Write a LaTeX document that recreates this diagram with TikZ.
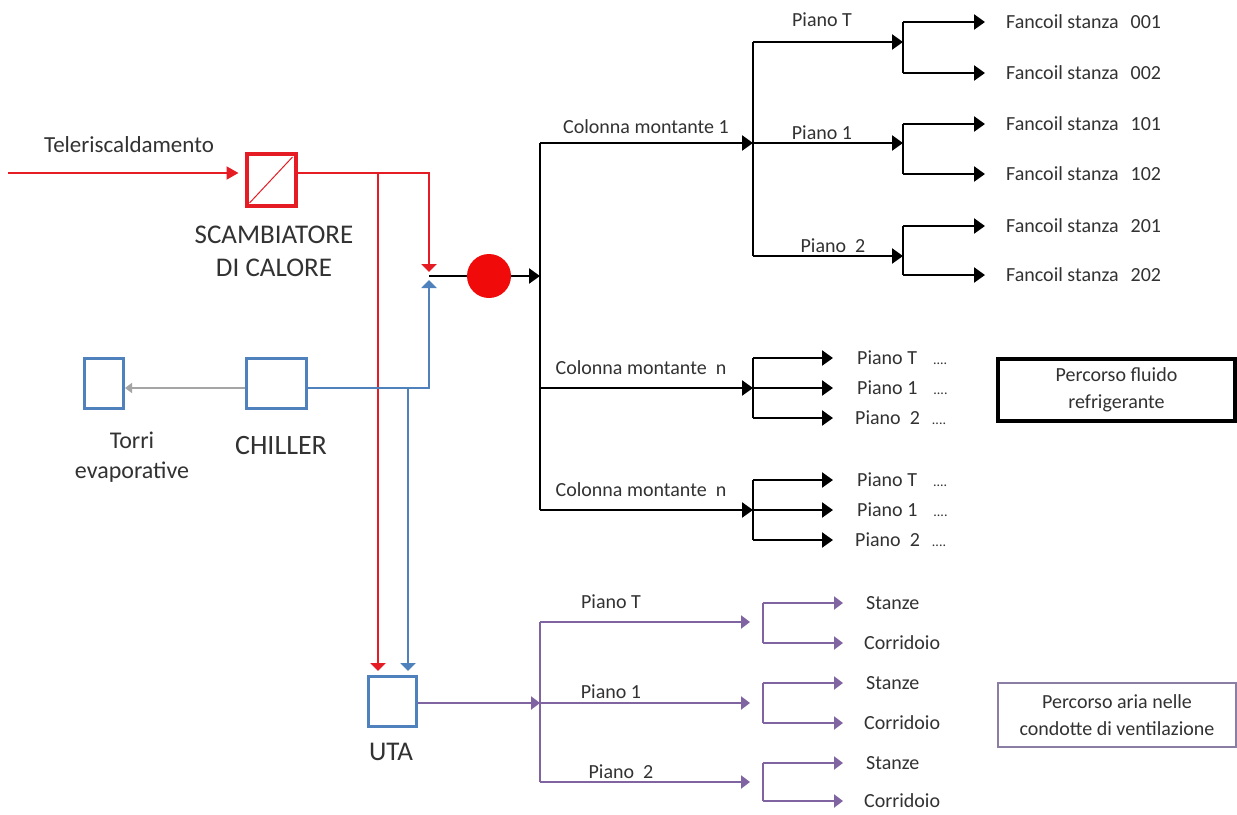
\documentclass[tikz,border=0pt]{standalone}
\usepackage{fontspec}
\setmainfont{Carlito}
\usetikzlibrary{arrows.meta}
\definecolor{hred}{RGB}{230,28,36}
\definecolor{pumpred}{RGB}{240,10,10}
\definecolor{hblue}{RGB}{79,129,189}
\definecolor{hpurple}{RGB}{128,100,162}
\definecolor{hgray}{RGB}{165,165,165}
\definecolor{txt}{RGB}{50,50,50}
\definecolor{boxpurple}{RGB}{140,125,165}
\tikzset{
 lbl/.style={text=txt, inner sep=0pt, font=\fontsize{20}{27}\selectfont},
 biglbl/.style={text=txt, inner sep=0pt, font=\fontsize{27}{30}\selectfont},
 redln/.style={draw=hred, line width=2pt},
 blueln/.style={draw=hblue, line width=2pt},
 blkln/.style={draw=black, line width=2.4pt},
 purln/.style={draw=hpurple, line width=2.5pt},
 grayln/.style={draw=hgray, line width=1.5pt},
 bigredtip/.style={-{Triangle[length=12pt,width=13pt]}},
 flattip/.style={-{Triangle[length=8pt,width=15pt]}},
 blktip/.style={-{Triangle[length=11pt,width=15pt]}},
 purtip/.style={-{Triangle[length=9pt,width=13pt]}},
 graytip/.style={-{Triangle[length=7pt,width=10pt]}},
 unitbox/.style={draw=hblue, line width=3pt, inner sep=0pt, fill=white},
}
\begin{document}
\begin{tikzpicture}[x=1pt,y=-1pt]
\useasboundingbox[fill=white] (0,0) rectangle (1237,814);

% ---------- equipment ----------
\node[draw=hred, line width=4pt, minimum width=49pt, minimum height=52pt, inner sep=0pt] (scamb) at (271,180) {};
\draw[hred, line width=1pt] ([shift={(5,-5)}]scamb.south west) -- ([shift={(-5,5)}]scamb.north east);
\node[biglbl] (scambA) at (274,235) {SCAMBIATORE};
\node[biglbl] (scambB) at (274,268) {DI CALORE};
\node[lbl, font=\fontsize{23}{26}\selectfont] (tele) at (129,145) {Teleriscaldamento};

\node[unitbox, minimum width=60pt, minimum height=50pt] (chiller) at (276.5,383.5) {};
\node[biglbl, font=\fontsize{28}{30}\selectfont] (chillerl) at (281,446) {CHILLER};
\node[unitbox, minimum width=39pt, minimum height=50pt] (torri) at (104,383.5) {};
\node[lbl, font=\fontsize{24}{30}\selectfont, align=center] (torril) at (132,457) {Torri\\evaporative};

\node[unitbox, minimum width=48pt, minimum height=50pt] (uta) at (392.5,701.5) {};
\node[biglbl] (utal) at (391,752) {UTA};

% ---------- red (hot water) ----------
\coordinate (tstart) at (8,173);
\coordinate (rsplit) at (378,173);
\coordinate (rcorner) at (429,173);
\coordinate (rtip) at (429,272);
\draw[redln, bigredtip, shorten >=6pt] (tstart) -- (tstart -| scamb.west);
\draw[redln, flattip] (scamb.east |- rsplit) -- (rcorner) -- (rtip);
\draw[redln, flattip, shorten >=4pt] (rsplit) -- (rsplit |- uta.north);

% ---------- blue (chilled water) ----------
\coordinate (bsplit) at (408,388);
\coordinate (bcorner) at (429,388);
\coordinate (btip) at (429,280);
\draw[grayln, graytip] (chiller.west |- bsplit) -- (torri.east |- bsplit);
\draw[blueln, flattip] (chiller.east |- bsplit) -- (bcorner) -- (btip);
\draw[blueln, flattip, shorten >=4pt] (bsplit) -- (bsplit |- uta.north);

% ---------- black (fluid distribution) ----------
\coordinate (mix) at (429,276);
\node[circle, fill=pumpred, minimum size=44pt, inner sep=0pt] (pump) at (489,276) {};
\coordinate (hub) at (540,276);
\draw[blkln] (mix) -- (pump.west);
\draw[blkln, blktip] (pump.east) -- (hub);

\coordinate (c1) at (540,143);
\coordinate (cn1) at (540,388);
\coordinate (cn2) at (540,510);
\draw[blkln] (c1) -- (cn2);

\node[lbl] (col1) at (646,127) {Colonna montante 1};
\node[lbl] (coln1) at (641,368) {Colonna montante\ \ n};
\node[lbl] (coln2) at (641,490) {Colonna montante\ \ n};

% riser 1
\coordinate (j1) at (753,143);
\coordinate (j1t) at (753,42);
\coordinate (j1b) at (753,256);
\draw[blkln, blktip] (c1) -- (j1);
\draw[blkln] (j1t) -- (j1b);
\coordinate (fT) at (903,42);
\coordinate (f1) at (903,143);
\coordinate (f2) at (903,256);
\draw[blkln, blktip] (j1t) -- (fT);
\draw[blkln, blktip] (j1) -- (f1);
\draw[blkln, blktip] (j1b) -- (f2);
\node[lbl] (pT) at (822,20) {Piano T};
\node[lbl] (p1) at (822,133) {Piano 1};
\node[lbl] (p2) at (833,246) {Piano\ \ 2};

\foreach \nm/\ya/\yb/\na/\nb in {T/22/73/001/002, U/124/174/101/102, D/226/275/201/202}{
  \coordinate (s\nm a) at (903,\ya);
  \coordinate (s\nm b) at (903,\yb);
  \draw[blkln] (s\nm a) -- (s\nm b);
  \node[lbl, anchor=west] (fc\na) at (1006,\ya) {Fancoil stanza\hspace{12pt}\na};
  \node[lbl, anchor=west] (fc\nb) at (1006,\yb) {Fancoil stanza\hspace{12pt}\nb};
  \draw[blkln, blktip, shorten >=21pt] (s\nm a) -- (fc\na.west);
  \draw[blkln, blktip, shorten >=21pt] (s\nm b) -- (fc\nb.west);
}

% risers n
\foreach \rr/\yc in {A/388, B/510}{
  \coordinate (k\rr) at (753,\yc);
  \coordinate (k\rr t) at (753,\yc-30);
  \coordinate (k\rr b) at (753,\yc+30);
  \draw[blkln, blktip] (540,\yc) -- (k\rr);
  \draw[blkln] (k\rr t) -- (k\rr b);
  \node[lbl, anchor=west] (q\rr T) at (857,\yc-30) {Piano T\hspace{16pt}{\fontsize{14}{14}\selectfont ....}};
  \node[lbl, anchor=west] (q\rr 1) at (857,\yc) {Piano 1\hspace{16pt}{\fontsize{14}{14}\selectfont ....}};
  \node[lbl, anchor=west] (q\rr 2) at (855,\yc+30) {Piano\ \ 2\hspace{12pt}{\fontsize{14}{14}\selectfont ....}};
  \draw[blkln, blktip, shorten >=24pt] (k\rr t) -- (q\rr T.west);
  \draw[blkln, blktip, shorten >=24pt] (k\rr) -- (q\rr 1.west);
  \draw[blkln, blktip, shorten >=22pt] (k\rr b) -- (q\rr 2.west);
}

\node[draw=black, line width=4pt, minimum width=237pt, minimum height=62pt, lbl, align=center] (legfluid) at (1116.5,390) {Percorso fluido\\refrigerante};

% ---------- purple (air ducts) ----------
\coordinate (ahub) at (540,703);
\coordinate (aT) at (540,622);
\coordinate (a2) at (540,782);
\draw[purln, purtip] (uta.east |- ahub) -- (ahub);
\draw[purln] (aT) -- (a2);
\node[lbl] (apT) at (611,602) {Piano T};
\node[lbl] (ap1) at (611,692) {Piano 1};
\node[lbl] (ap2) at (621,772) {Piano\ \ 2};

\foreach \nm/\ym/\ya/\yb in {T/622/603/643, U/703/683/723, D/782/763/801}{
  \coordinate (v\nm) at (763,\ym);
  \coordinate (v\nm a) at (763,\ya);
  \coordinate (v\nm b) at (763,\yb);
  \draw[purln] (v\nm a) -- (v\nm b);
  \draw[purln, purtip, shorten >=13pt] (540,\ym) -- (v\nm);
  \node[lbl, anchor=west] (st\nm) at (866,\ya) {Stanze};
  \node[lbl, anchor=west] (co\nm) at (864,\yb) {Corridoio};
  \draw[purln, purtip, shorten >=23pt] (v\nm a) -- (st\nm.west);
  \draw[purln, purtip, shorten >=21pt] (v\nm b) -- (co\nm.west);
}

\node[draw=boxpurple, line width=2.5pt, minimum width=238pt, minimum height=64pt, lbl, align=center] (legair) at (1117,715) {Percorso aria nelle\\condotte di ventilazione};
\end{tikzpicture}
\end{document}
